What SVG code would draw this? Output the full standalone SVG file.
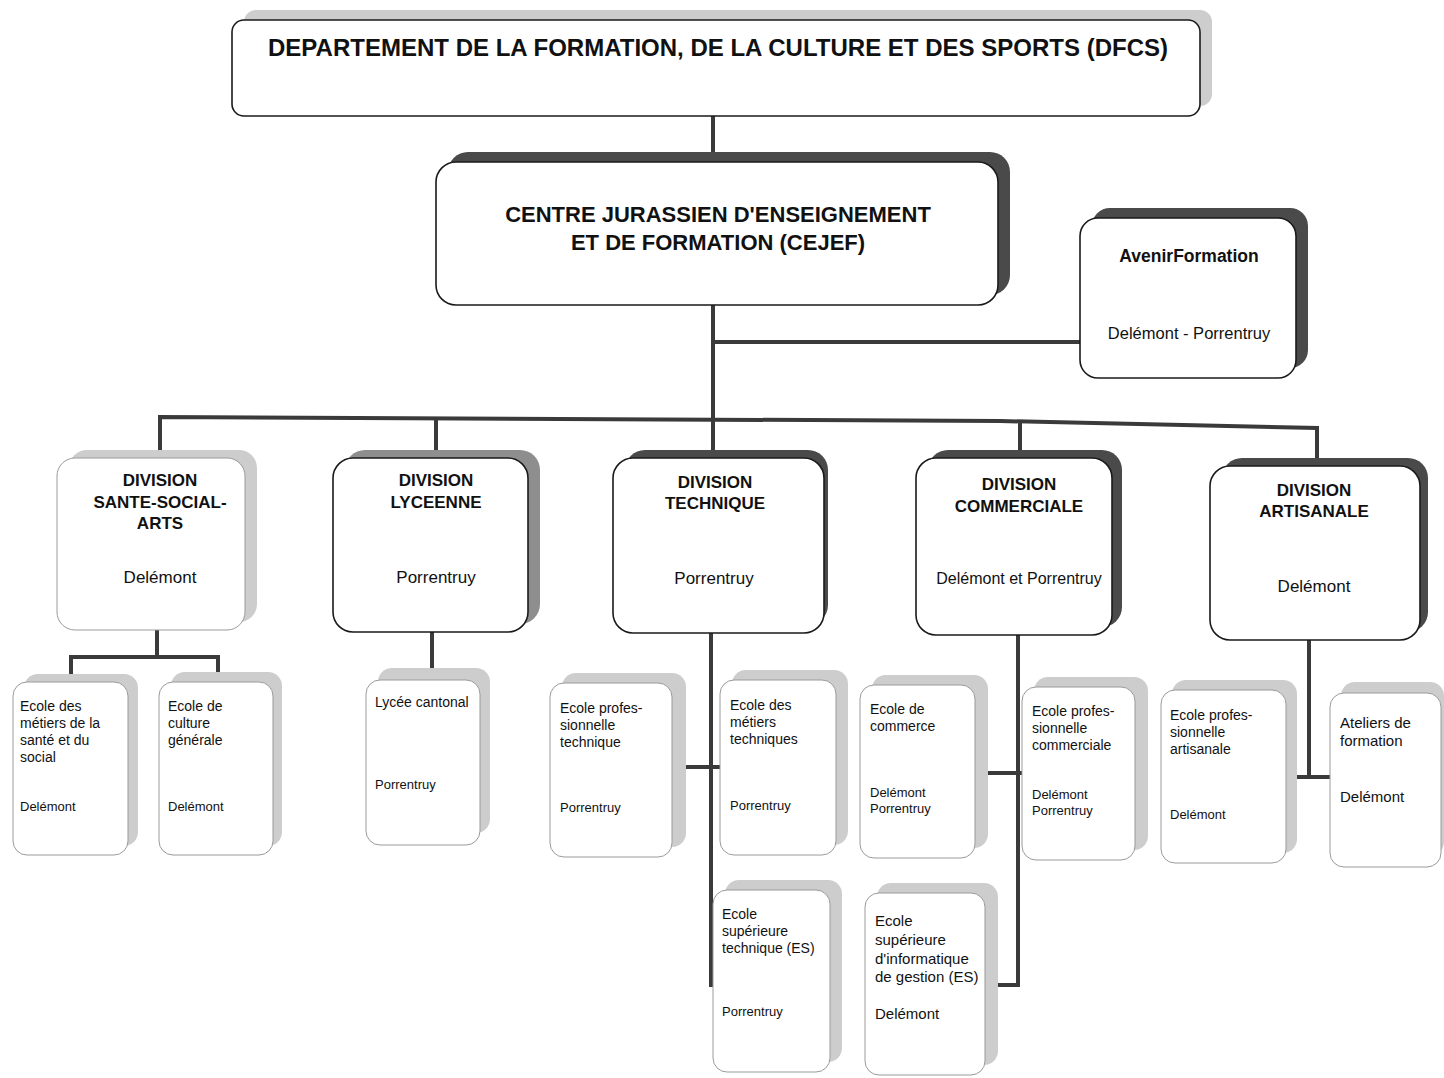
<svg xmlns="http://www.w3.org/2000/svg" width="1444" height="1078" viewBox="0 0 1444 1078">
<style>
text{font-family:"Liberation Sans",Arial,sans-serif;fill:#111}
.b{font-weight:bold}
.c{text-anchor:middle}
.fd{fill:#fff;stroke:#1a1a1a;stroke-width:1.6}
.fl{fill:#fff;stroke:#9a9a9a;stroke-width:1}
.sd{fill:#4a4a4a}
.sm{fill:#8e8e8e}
.sl{fill:#cdcdcd}
.con{fill:none;stroke:#3a3a3a;stroke-width:4}
.t17{font-size:17px}
.t16{font-size:16px}
.t15{font-size:15px}
.t14{font-size:14px}
.t12{font-size:13px}
</style>
<rect width="1444" height="1078" fill="#fff"/>

<g id="connectors">
  <line class="con" x1="713" y1="115" x2="713" y2="162"/>
  <line class="con" x1="713" y1="305" x2="713" y2="422"/>
  <line class="con" x1="713" y1="342" x2="1080" y2="342"/>
  <polyline class="con" points="160,458 160,417 1000,421 1317,428 1317,466"/>
  <line class="con" x1="436" y1="419" x2="436" y2="458"/>
  <line class="con" x1="713" y1="420" x2="713" y2="458"/>
  <line class="con" x1="1020" y1="422" x2="1020" y2="458"/>
  <!-- Sante -->
  <polyline class="con" points="157,630 157,657 71,657 71,676"/>
  <polyline class="con" points="157,657 218,657 218,674"/>
  <!-- Lycee -->
  <line class="con" x1="432" y1="632" x2="432" y2="670"/>
  <!-- Technique -->
  <polyline class="con" points="711,633 711,985 715,985"/>
  <line class="con" x1="684" y1="767" x2="722" y2="767"/>
  <!-- Commerciale -->
  <polyline class="con" points="1018,635 1018,985 992,985"/>
  <line class="con" x1="986" y1="773" x2="1024" y2="773"/>
  <!-- Artisanale -->
  <polyline class="con" points="1309,640 1309,777 1296,777"/>
  <line class="con" x1="1307" y1="777" x2="1332" y2="777"/>
</g>

<g id="dfcs">
  <rect class="sl" x="244" y="10" width="968" height="96" rx="12"/>
  <rect class="fd" x="232" y="20" width="968" height="96" rx="12"/>
  <text class="b c" x="718" y="56" font-size="23" textLength="900" lengthAdjust="spacingAndGlyphs">DEPARTEMENT DE LA FORMATION, DE LA CULTURE ET DES SPORTS (DFCS)</text>
</g>

<g id="cejef">
  <rect class="sd" x="448" y="152" width="562" height="143" rx="20"/>
  <rect class="fd" x="436" y="162" width="562" height="143" rx="20"/>
  <text class="b c" x="718" y="222" font-size="22">CENTRE JURASSIEN D'ENSEIGNEMENT</text>
  <text class="b c" x="718" y="250" font-size="22">ET DE FORMATION (CEJEF)</text>
</g>

<g id="avenir">
  <rect class="sd" x="1092" y="208" width="216" height="160" rx="18"/>
  <rect class="fd" x="1080" y="218" width="216" height="160" rx="18"/>
  <text class="b c" x="1189" y="262" font-size="17.5">AvenirFormation</text>
  <text class="c" x="1189" y="339" font-size="16.5">Delémont - Porrentruy</text>
</g>

<g id="div-sante">
  <rect class="sl" x="69" y="450" width="188" height="172" rx="18"/>
  <rect class="fl" x="57" y="458" width="188" height="172" rx="18" stroke="#d8d8d8"/>
  <text class="b c t17" x="160" y="486">DIVISION</text>
  <text class="b c t17" x="160" y="508">SANTE-SOCIAL-</text>
  <text class="b c t17" x="160" y="529">ARTS</text>
  <text class="c t17" x="160" y="583">Delémont</text>
</g>

<g id="div-lyceenne">
  <rect class="sm" x="345" y="450" width="195" height="174" rx="20"/>
  <rect class="fd" x="333" y="458" width="195" height="174" rx="20"/>
  <text class="b c t17" x="436" y="486">DIVISION</text>
  <text class="b c t17" x="436" y="508">LYCEENNE</text>
  <text class="c t17" x="436" y="583">Porrentruy</text>
</g>

<g id="div-technique">
  <rect class="sd" x="625" y="450" width="203" height="175" rx="20"/>
  <rect class="fd" x="613" y="458" width="211" height="175" rx="20"/>
  <text class="b c t17" x="715" y="488">DIVISION</text>
  <text class="b c t17" x="715" y="509">TECHNIQUE</text>
  <text class="c t17" x="714" y="584">Porrentruy</text>
</g>

<g id="div-commerciale">
  <rect class="sd" x="928" y="450" width="194" height="177" rx="20"/>
  <rect class="fd" x="916" y="458" width="196" height="177" rx="20"/>
  <text class="b c t17" x="1019" y="490">DIVISION</text>
  <text class="b c t17" x="1019" y="512">COMMERCIALE</text>
  <text class="c t16" x="1019" y="584">Delémont et Porrentruy</text>
</g>

<g id="div-artisanale">
  <rect class="sd" x="1222" y="458" width="206" height="174" rx="20"/>
  <rect class="fd" x="1210" y="466" width="210" height="174" rx="20"/>
  <text class="b c t17" x="1314" y="496">DIVISION</text>
  <text class="b c t17" x="1314" y="517">ARTISANALE</text>
  <text class="c t17" x="1314" y="592">Delémont</text>
</g>

<g id="ecole-sante">
  <rect class="sl" x="24" y="674" width="114" height="172" rx="14"/>
  <rect class="fl" x="13" y="682" width="115" height="173" rx="14"/>
  <text class="t14" x="20" y="711">Ecole des</text>
  <text class="t14" x="20" y="728">métiers de la</text>
  <text class="t14" x="20" y="745">santé et du</text>
  <text class="t14" x="20" y="762">social</text>
  <text class="t12" x="20" y="811">Delémont</text>
</g>

<g id="ecole-culture">
  <rect class="sl" x="171" y="672" width="111" height="174" rx="14"/>
  <rect class="fl" x="159" y="682" width="114" height="173" rx="14"/>
  <text class="t14" x="168" y="711">Ecole de</text>
  <text class="t14" x="168" y="728">culture</text>
  <text class="t14" x="168" y="745">générale</text>
  <text class="t12" x="168" y="811">Delémont</text>
</g>

<g id="lycee-cantonal">
  <rect class="sl" x="378" y="668" width="112" height="165" rx="14"/>
  <rect class="fl" x="366" y="680" width="114" height="165" rx="14"/>
  <text class="t14" x="375" y="707">Lycée cantonal</text>
  <text class="t12" x="375" y="789">Porrentruy</text>
</g>

<g id="ecole-prof-technique">
  <rect class="sl" x="562" y="673" width="124" height="174" rx="14"/>
  <rect class="fl" x="550" y="683" width="122" height="174" rx="14"/>
  <text class="t14" x="560" y="713">Ecole profes-</text>
  <text class="t14" x="560" y="730">sionnelle</text>
  <text class="t14" x="560" y="747">technique</text>
  <text class="t12" x="560" y="812">Porrentruy</text>
</g>

<g id="ecole-metiers-techniques">
  <rect class="sl" x="732" y="670" width="116" height="175" rx="14"/>
  <rect class="fl" x="720" y="680" width="116" height="175" rx="14"/>
  <text class="t14" x="730" y="710">Ecole des</text>
  <text class="t14" x="730" y="727">métiers</text>
  <text class="t14" x="730" y="744">techniques</text>
  <text class="t12" x="730" y="810">Porrentruy</text>
</g>

<g id="es-technique">
  <rect class="sl" x="725" y="880" width="117" height="182" rx="14"/>
  <rect class="fl" x="713" y="890" width="117" height="182" rx="14"/>
  <text class="t14" x="722" y="919">Ecole</text>
  <text class="t14" x="722" y="936">supérieure</text>
  <text class="t14" x="722" y="953">technique (ES)</text>
  <text class="t12" x="722" y="1016">Porrentruy</text>
</g>

<g id="ecole-commerce">
  <rect class="sl" x="872" y="675" width="116" height="173" rx="14"/>
  <rect class="fl" x="860" y="685" width="115" height="173" rx="14"/>
  <text class="t14" x="870" y="714">Ecole de</text>
  <text class="t14" x="870" y="731">commerce</text>
  <text class="t12" x="870" y="797">Delémont</text>
  <text class="t12" x="870" y="813">Porrentruy</text>
</g>

<g id="ecole-prof-commerciale">
  <rect class="sl" x="1034" y="677" width="114" height="173" rx="14"/>
  <rect class="fl" x="1022" y="687" width="113" height="173" rx="14"/>
  <text class="t14" x="1032" y="716">Ecole profes-</text>
  <text class="t14" x="1032" y="733">sionnelle</text>
  <text class="t14" x="1032" y="750">commerciale</text>
  <text class="t12" x="1032" y="799">Delémont</text>
  <text class="t12" x="1032" y="815">Porrentruy</text>
</g>

<g id="es-informatique">
  <rect class="sl" x="877" y="883" width="121" height="182" rx="14"/>
  <rect class="fl" x="865" y="893" width="120" height="182" rx="14"/>
  <text class="t15" x="875" y="926">Ecole</text>
  <text class="t15" x="875" y="945">supérieure</text>
  <text class="t15" x="875" y="964">d'informatique</text>
  <text class="t15" x="875" y="982">de gestion (ES)</text>
  <text class="t15" x="875" y="1019">Delémont</text>
</g>

<g id="ecole-prof-artisanale">
  <rect class="sl" x="1172" y="680" width="125" height="173" rx="14"/>
  <rect class="fl" x="1161" y="690" width="125" height="173" rx="14"/>
  <text class="t14" x="1170" y="720">Ecole profes-</text>
  <text class="t14" x="1170" y="737">sionnelle</text>
  <text class="t14" x="1170" y="754">artisanale</text>
  <text class="t12" x="1170" y="819">Delémont</text>
</g>

<g id="ateliers-formation">
  <rect class="sl" x="1341" y="682" width="103" height="174" rx="14"/>
  <rect class="fl" x="1330" y="693" width="111" height="174" rx="14"/>
  <text class="t15" x="1340" y="728">Ateliers de</text>
  <text class="t15" x="1340" y="746">formation</text>
  <text class="t15" x="1340" y="802">Delémont</text>
</g>
</svg>
